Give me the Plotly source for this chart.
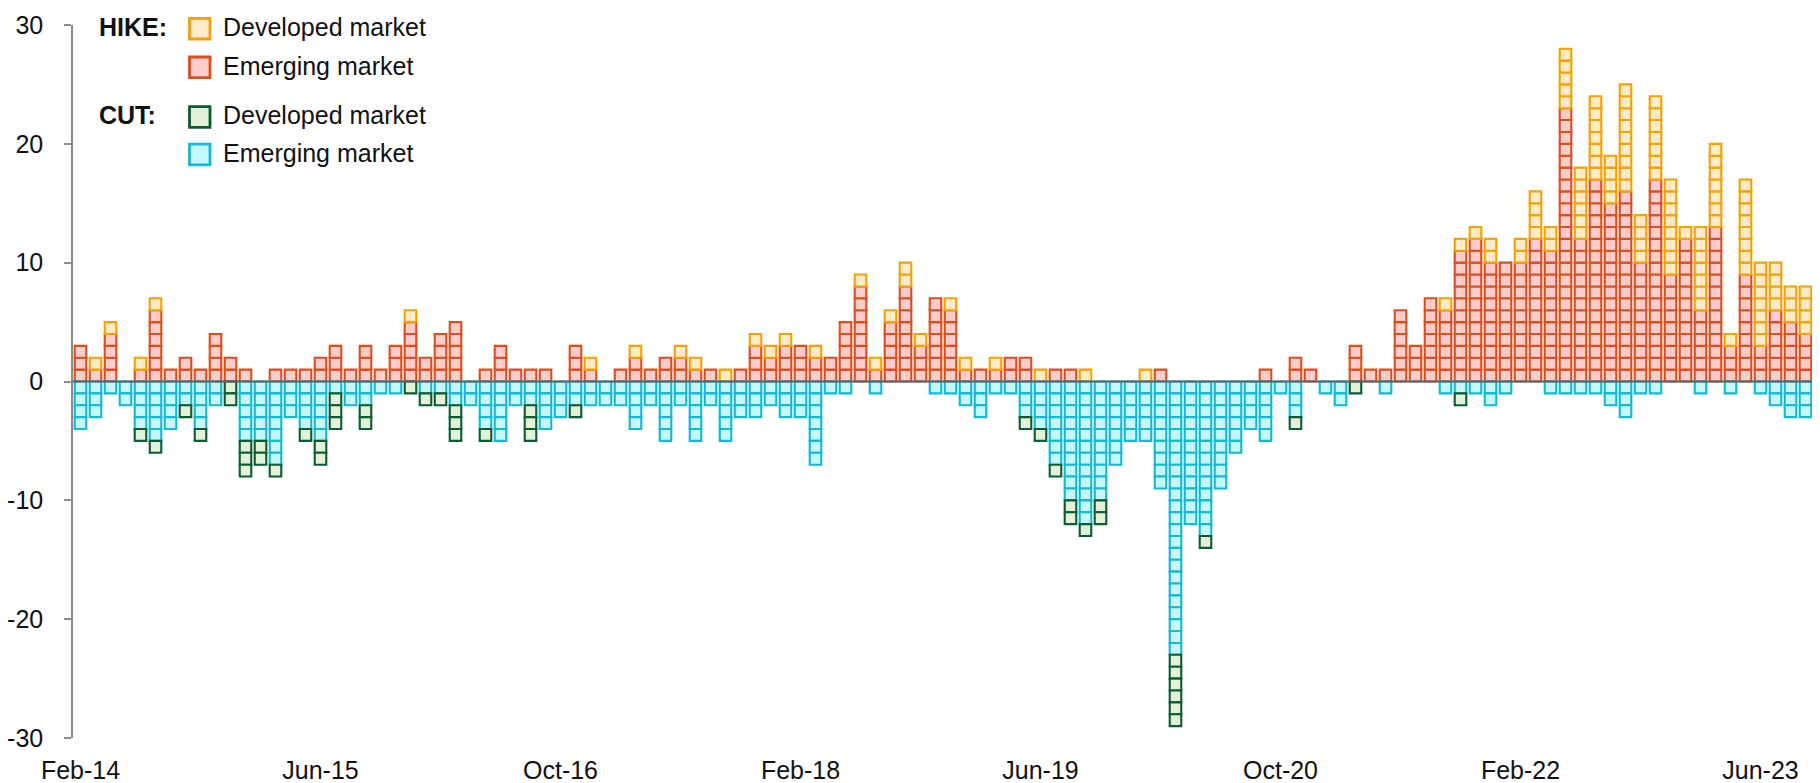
import plotly.graph_objects as go

# ---- data (monthly, Feb-14 .. Sep-23) ----
hike_em = [3,1,4,0,1,6,1,2,1,4,2,1,0,1,1,1,2,3,1,3,1,3,5,2,4,5,0,1,3,1,1,1,
           0,3,1,0,1,2,1,2,2,1,1,0,1,3,2,3,3,2,2,5,8,1,5,8,3,7,6,1,1,1,2,2,
           0,1,1,0,0,0,0,0,1,0,0,0,0,0,0,1,0,2,1,0,0,3,1,1,6,3,7,6,11,12,10,10,
           10,12,11,23,12,17,15,16,10,17,9,12,6,13,3,9,3,6,5,4]
hike_dm = [0,1,1,0,1,1,0,0,0,0,0,0,0,0,0,0,0,0,0,0,0,0,1,0,0,0,0,0,0,0,0,0,
           0,0,1,0,0,1,0,0,1,1,0,1,0,1,1,1,0,1,0,0,1,1,1,2,1,0,1,1,0,1,0,0,
           1,0,0,1,0,0,0,1,0,0,0,0,0,0,0,0,0,0,0,0,0,0,0,0,0,0,0,1,1,1,2,0,
           2,4,2,5,6,7,4,9,4,7,8,1,7,7,1,8,7,4,3,4]
cut_em = [4,3,1,2,4,5,4,2,4,2,0,5,5,7,3,4,5,1,2,2,1,1,0,1,1,2,2,4,5,2,2,4,
          3,2,2,2,2,4,2,5,2,5,2,5,3,3,2,3,3,7,1,1,0,1,0,0,0,1,1,2,3,1,1,3,
          4,7,10,12,10,7,5,5,9,23,12,13,9,6,4,5,1,3,0,1,2,0,0,1,0,0,0,1,1,1,2,1,
          0,0,1,1,1,1,2,3,1,1,0,0,1,0,1,0,1,2,3,3]
cut_dm = [0,0,0,0,1,1,0,1,1,0,2,3,2,1,0,1,2,3,0,2,0,0,1,1,1,3,0,1,0,0,3,0,
          0,1,0,0,0,0,0,0,0,0,0,0,0,0,0,0,0,0,0,0,0,0,0,0,0,0,0,0,0,0,0,1,
          1,1,2,1,2,0,0,0,0,6,0,1,0,0,0,0,0,1,0,0,0,1,0,0,0,0,0,0,1,0,0,0,
          0,0,0,0,0,0,0,0,0,0,0,0,0,0,0,0,0,0,0,0]

tick_pos = [0, 16, 32, 48, 64, 80, 96, 112]
tick_labels = ["Feb-14", "Jun-15", "Oct-16", "Feb-18", "Jun-19", "Oct-20", "Feb-22", "Jun-23"]
y_ticks = [-30, -20, -10, 0, 10, 20, 30]
y_tick_labels = ["-30", "-20", "-10", "0", "10", "20", "30"]

# ---- styles ----
COL = {
    "hike_dm": ("#F5A100", "#FFEBC9"),
    "hike_em": ("#D9501E", "#FFCCCC"),
    "cut_dm": ("#0B5B33", "#E3F1D9"),
    "cut_em": ("#15B8D1", "#C5F7FD"),
}
FONT = "Liberation Sans, Arial, sans-serif"
FS = 25

n = len(hike_em)
x = list(range(n))

fig = go.Figure()

def add_units(values, sign, key):
    line_c, fill_c = COL[key]
    for k in range(1, max(values) + 1):
        y = [sign if v >= k else None for v in values]
        fig.add_trace(go.Bar(
            x=x, y=y, width=0.77,
            marker=dict(color=fill_c, line=dict(color=line_c, width=2.1)),
            showlegend=False, hoverinfo="skip",
        ))

add_units(hike_em, 1, "hike_em")
add_units(hike_dm, 1, "hike_dm")
add_units(cut_em, -1, "cut_em")
add_units(cut_dm, -1, "cut_dm")

# ---- layout geometry (page pixels; page body has an 8px default margin) ----
BODY = 8
FIG_W, FIG_H = 1820 - BODY, 783 - BODY
L, T, W, H = 73, 25, 1740, 713          # plot area in page pixels
def px(v):
    return (v - L) / W
def py(v):
    return (T + H - v) / H

shapes = [dict(type="line", xref="paper", yref="y", x0=0, x1=1, y0=0, y1=0,
               line=dict(color="#55636D", width=2.2), layer="above")]
annotations = []

legend_rows = [
    ("<b>HIKE:</b>", "Developed market", "hike_dm", 28.7),
    (None, "Emerging market", "hike_em", 67.3),
    ("<b>CUT:</b>", "Developed market", "cut_dm", 117.0),
    (None, "Emerging market", "cut_em", 154.5),
]
for head, label, key, cy in legend_rows:
    line_c, fill_c = COL[key]
    shapes.append(dict(type="rect", xref="paper", yref="paper",
                       x0=px(189.5), x1=px(210), y0=py(cy + 10.3), y1=py(cy - 10.3),
                       fillcolor=fill_c, line=dict(color=line_c, width=2.8), layer="above"))
    annotations.append(dict(xref="paper", yref="paper", x=px(221), y=py(cy - 1.5),
                            xanchor="left", yanchor="middle", showarrow=False,
                            text=label, font=dict(family=FONT, size=FS, color="#111111")))
    if head:
        annotations.append(dict(xref="paper", yref="paper", x=px(97), y=py(cy - 1.5),
                                xanchor="left", yanchor="middle", showarrow=False,
                                text=head, font=dict(family=FONT, size=FS, color="#111111")))

fig.update_layout(
    barmode="relative",
    width=FIG_W, height=FIG_H,
    margin=dict(l=L - BODY, r=FIG_W - (L - BODY) - W, t=T - BODY,
                b=FIG_H - (T - BODY) - H, pad=0, autoexpand=False),
    paper_bgcolor="white", plot_bgcolor="white",
    font=dict(family=FONT, size=FS, color="#111111"),
    shapes=shapes, annotations=annotations,
    showlegend=False,
)
fig.update_xaxes(
    range=[-0.5, n - 0.5], tickmode="array", tickvals=tick_pos, ticktext=tick_labels,
    showgrid=False, zeroline=False, showline=False, ticks="", automargin=False,
    tickfont=dict(family=FONT, size=FS, color="#111111"), ticklabelstandoff=15,
)
fig.update_yaxes(
    range=[-30, 30], tickmode="array", tickvals=y_ticks, ticktext=y_tick_labels,
    showgrid=False, zeroline=False, showline=True, linecolor="#8C8C8C", linewidth=1.5,
    ticks="outside", ticklen=7, tickcolor="#8C8C8C", tickwidth=1.5, automargin=False,
    tickfont=dict(family=FONT, size=FS, color="#111111"), ticklabelstandoff=16,
)

fig.write_html("out.html")
